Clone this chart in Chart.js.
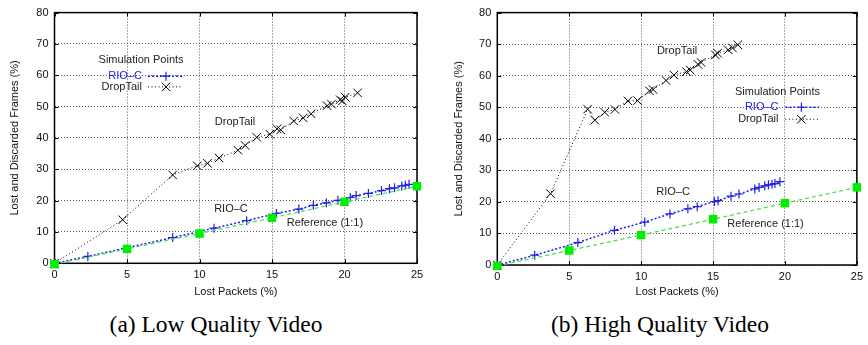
<!DOCTYPE html>
<html lang="en">
<head>
<meta charset="UTF-8">
<title>Lost and Discarded Frames vs Lost Packets</title>
<script src="https://cdn.jsdelivr.net/npm/chart.js"></script>
<style>
    body {
        margin: 0;
        background: #fff;
        width: 868px;
        height: 345px;
        position: relative;
        overflow: hidden;
        font-family: "Liberation Sans", Arial, sans-serif;
    }
    .panel {
        position: absolute;
        top: 0;
        width: 434px;
        height: 345px;
    }
    #panelA { left: 0; }
    #panelB { left: 434px; }
    canvas {
        position: absolute;
        left: 0;
        top: 0;
    }
    .caption {
        position: absolute;
        top: 311px;
        font-family: "Liberation Serif", "Times New Roman", serif;
        font-size: 23.5px;
        line-height: 27px;
        color: #000;
        white-space: nowrap;
        transform: translateX(-50%);
    }
</style>
</head>
<body>
<div class="panel" id="panelA">
    <canvas id="lowChart" width="434" height="300"></canvas>
    <div class="caption" style="left:216px">(a) Low Quality Video</div>
</div>
<div class="panel" id="panelB">
    <canvas id="highChart" width="434" height="300"></canvas>
    <div class="caption" style="left:226px">(b) High Quality Video</div>
</div>

<script>
// reference line (1:1), same in both plots
const refX = [0, 5, 10, 15, 20, 25];
const refY = [-0.3, 4.6, 9.5, 14.5, 19.6, 24.6];

// (a) low quality video
const lowRioX = [0, 2.3, 8.15, 11.0, 13.25, 15.3, 16.85, 17.85, 18.75, 19.55, 20.4, 20.8, 21.65, 22.55, 23.1, 23.45, 23.95, 24.2, 24.45];
const lowRioY = [0, 2.2, 8.2, 11.2, 13.6, 15.9, 17.3, 18.5, 19.3, 20.1, 21.0, 21.6, 22.3, 23.2, 23.8, 24.1, 24.7, 24.9, 25.2];
const lowDropX = [0, 4.7, 8.15, 9.85, 10.55, 11.35, 12.65, 13.15, 13.95, 14.85, 15.35, 15.6, 16.5, 17.15, 17.7, 18.8, 19.1, 19.7, 19.85, 20.05, 20.9];
const lowDropY = [0, 13.9, 28.2, 31.1, 31.9, 33.6, 36.1, 37.6, 40.2, 41.2, 42.9, 42.6, 45.4, 46.4, 47.7, 50.3, 50.8, 52.2, 51.8, 53.0, 54.4];

// (b) high quality video
const highRioX = [0, 2.6, 5.6, 8.15, 10.25, 12.0, 13.25, 13.9, 15.1, 15.35, 16.25, 16.8, 17.9, 18.2, 18.6, 18.85, 19.1, 19.3, 19.65];
const highRioY = [0, 3.1, 7.1, 11.0, 13.6, 16.2, 17.8, 18.5, 20.1, 20.4, 21.8, 22.5, 24.1, 24.6, 25.1, 25.4, 25.6, 25.8, 26.4];
const highDropX = [0, 3.7, 6.28, 6.78, 7.47, 8.18, 9.08, 9.75, 10.58, 10.83, 11.73, 12.28, 13.15, 13.41, 13.95, 14.17, 15.16, 15.32, 16.05, 16.35, 16.72];
const highDropY = [0, 22.6, 49.4, 45.9, 48.4, 49.3, 52.0, 52.1, 55.2, 55.6, 58.5, 60.2, 61.3, 61.8, 63.6, 64.2, 66.6, 67.1, 68.2, 68.8, 69.8];

const xTitle = 'Lost Packets (%)';
const yTitle = 'Lost and Discarded Frames (%)';

const BLUE = '#2020e8';
const TEXT = '#222';

function pts(xs, ys) {
    return xs.map((x, i) => ({ x: x, y: ys[i] }));
}

function marker(ctx, style, x, y, r) {
    ctx.beginPath();
    if (style === 'cross') {
        ctx.moveTo(x - r, y); ctx.lineTo(x + r, y);
        ctx.moveTo(x, y - r); ctx.lineTo(x, y + r);
    } else {
        const d = r * Math.SQRT1_2;
        ctx.moveTo(x - d, y - d); ctx.lineTo(x + d, y + d);
        ctx.moveTo(x - d, y + d); ctx.lineTo(x + d, y - d);
    }
    ctx.stroke();
}

// gnuplot-like frame, inward ticks, in-plot labels and key
const framePlugin = {
    id: 'frame',
    beforeDatasetsDraw(chart) {
        const { ctx, chartArea: a, scales: { x, y } } = chart;
        ctx.save();
        ctx.strokeStyle = '#000';
        ctx.lineWidth = 1;
        ctx.beginPath();
        x.ticks.forEach(t => {
            const px = Math.round(x.getPixelForValue(t.value)) + 0.5;
            ctx.moveTo(px, a.bottom); ctx.lineTo(px, a.bottom - 4);
            ctx.moveTo(px, a.top); ctx.lineTo(px, a.top + 4);
        });
        y.ticks.forEach(t => {
            const py = Math.round(y.getPixelForValue(t.value)) + 0.5;
            ctx.moveTo(a.left, py); ctx.lineTo(a.left + 4, py);
            ctx.moveTo(a.right, py); ctx.lineTo(a.right - 4, py);
        });
        ctx.stroke();
        ctx.lineWidth = 1.5;
        ctx.strokeRect(a.left, a.top, a.width, a.height);
        ctx.restore();
    },
    afterDatasetsDraw(chart, args, opts) {
        const { ctx, scales: { x, y } } = chart;
        ctx.save();
        ctx.font = '11px "Liberation Sans", Arial, sans-serif';
        ctx.textBaseline = 'middle';
        (opts.labels || []).forEach(l => {
            ctx.fillStyle = l.color || TEXT;
            ctx.textAlign = l.align || 'center';
            ctx.fillText(l.text, x.getPixelForValue(l.x), y.getPixelForValue(l.y));
        });
        const k = opts.key;
        if (k) {
            ctx.fillStyle = TEXT;
            ctx.textAlign = 'center';
            ctx.fillText('Simulation Points', x.getPixelForValue(k.titleX), y.getPixelForValue(k.titleY));
            k.rows.forEach(row => {
                const ds = chart.data.datasets[row.dataset];
                const py = y.getPixelForValue(row.y);
                ctx.fillStyle = row.color;
                ctx.textAlign = 'right';
                ctx.fillText(ds.label, x.getPixelForValue(k.textX), py);
                ctx.strokeStyle = ds.borderColor;
                ctx.lineWidth = ds.borderWidth;
                ctx.setLineDash(ds.borderDash);
                ctx.beginPath();
                ctx.moveTo(x.getPixelForValue(k.lineX1), py);
                ctx.lineTo(x.getPixelForValue(k.lineX2), py);
                ctx.stroke();
                ctx.setLineDash([]);
                ctx.lineWidth = ds.pointBorderWidth;
                marker(ctx, ds.pointStyle, x.getPixelForValue(k.markX), py, ds.pointRadius);
            });
        }
        ctx.restore();
    }
};

function makeChart(id, rio, drop, box, frameOpts) {
    const ctx = document.getElementById(id).getContext('2d');
    return new Chart(ctx, {
        type: 'scatter',
        data: {
            datasets: [
                {
                    label: 'Reference (1:1)',
                    data: pts(refX, refY),
                    showLine: true,
                    borderColor: '#40e040',
                    borderWidth: 1.2,
                    borderDash: [4, 3],
                    pointStyle: 'rect',
                    pointRadius: 6,
                    pointBackgroundColor: '#00ee00',
                    pointBorderColor: '#00ee00',
                    pointBorderWidth: 0,
                    clip: false,
                    order: 1
                },
                {
                    label: 'RIO\u2013C',
                    data: rio,
                    showLine: true,
                    borderColor: BLUE,
                    borderWidth: 1.5,
                    borderDash: [2, 2],
                    pointStyle: 'cross',
                    pointRadius: 4.5,
                    pointBorderColor: BLUE,
                    pointBorderWidth: 1.2,
                    clip: false,
                    order: 2
                },
                {
                    label: 'DropTail',
                    data: drop,
                    showLine: true,
                    borderColor: '#000',
                    borderWidth: 1,
                    borderDash: [1, 2.5],
                    pointStyle: 'crossRot',
                    pointRadius: 6,
                    pointBorderColor: '#000',
                    pointBorderWidth: 1,
                    clip: false,
                    order: 3
                }
            ]
        },
        options: {
            responsive: false,
            animation: false,
            events: [],
            layout: { padding: { left: 0, right: box.right, top: box.top, bottom: 0 } },
            plugins: {
                legend: { display: false },
                tooltip: { enabled: false },
                frame: frameOpts
            },
            scales: {
                x: {
                    type: 'linear',
                    min: 0,
                    max: 25,
                    afterFit: s => { s.height = box.xHeight; },
                    ticks: { stepSize: 5, padding: 5, color: '#111', font: { family: '"Liberation Sans", Arial', size: 11 } },
                    grid: { color: '#5a5a5a', lineWidth: 1, drawTicks: false },
                    border: { display: false, dash: [1, 2] },
                    title: { display: true, text: xTitle, color: '#111', padding: { top: 0, bottom: 1 }, font: { family: '"Liberation Sans", Arial', size: 11 } }
                },
                y: {
                    type: 'linear',
                    min: 0,
                    max: 80,
                    afterFit: s => { s.width = box.yWidth; },
                    ticks: { stepSize: 10, padding: 6, color: '#111', font: { family: '"Liberation Sans", Arial', size: 11 } },
                    grid: { color: '#5a5a5a', lineWidth: 1, drawTicks: false },
                    border: { display: false, dash: [1, 2] },
                    title: { display: true, text: yTitle, color: '#111', padding: { top: box.yTitlePad, bottom: 0 }, font: { family: '"Liberation Sans", Arial', size: 11 } }
                }
            }
        },
        plugins: [framePlugin]
    });
}

makeChart('lowChart', pts(lowRioX, lowRioY), pts(lowDropX, lowDropY),
    { right: 17, top: 8.5, yWidth: 54.5, xHeight: 36.7, yTitlePad: 8.4 },
    {
        labels: [
            { text: 'DropTail', x: 12.45, y: 45 },
            { text: 'RIO\u2013C', x: 12.17, y: 17.4 },
            { text: 'Reference (1:1)', x: 18.65, y: 13.0 }
        ],
        key: {
            titleX: 5.97, titleY: 64.8, textX: 6.03, lineX1: 6.45, lineX2: 8.86, markX: 7.69,
            rows: [
                { dataset: 1, y: 59.7, color: BLUE },
                { dataset: 2, y: 56.3, color: TEXT }
            ]
        }
    });

makeChart('highChart', pts(highRioX, highRioY), pts(highDropX, highDropY),
    { right: 9, top: 10.7, yWidth: 63.3, xHeight: 35, yTitlePad: 18.4 },
    {
        labels: [
            { text: 'DropTail', x: 12.5, y: 67.9 },
            { text: 'RIO\u2013C', x: 12.22, y: 23.0 },
            { text: 'Reference (1:1)', x: 18.65, y: 12.9 }
        ],
        key: {
            titleX: 19.48, titleY: 54.7, textX: 19.55, lineX1: 20.03, lineX2: 22.38, markX: 21.14,
            rows: [
                { dataset: 1, y: 50.0, color: BLUE },
                { dataset: 2, y: 46.2, color: TEXT }
            ]
        }
    });
</script>
</body>
</html>
